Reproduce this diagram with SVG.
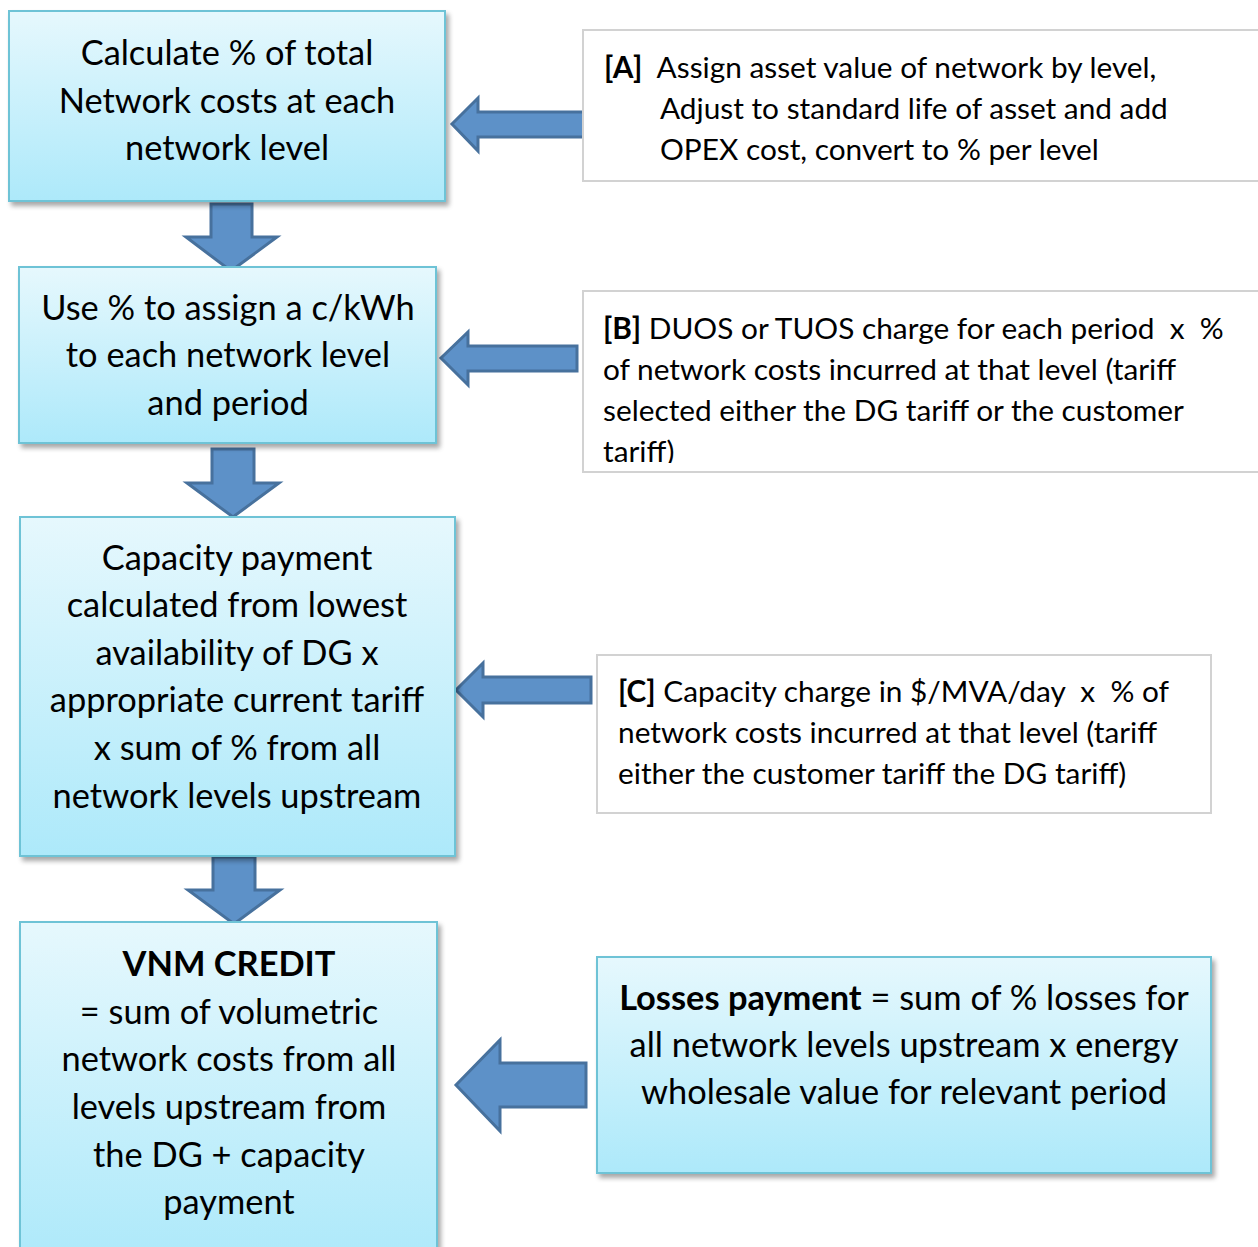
<svg xmlns="http://www.w3.org/2000/svg" width="1258" height="1247" viewBox="0 0 1258 1247">
  <defs>
    <linearGradient id="aqua" x1="0" y1="0" x2="0" y2="1">
      <stop offset="0" stop-color="#e6f8fd"/>
      <stop offset="1" stop-color="#ade9fa"/>
    </linearGradient>
    <filter id="shadow" x="-5%" y="-5%" width="112%" height="115%">
      <feGaussianBlur in="SourceAlpha" stdDeviation="2.5"/>
      <feOffset dx="3" dy="4" result="b"/>
      <feComponentTransfer><feFuncA type="linear" slope="0.35"/></feComponentTransfer>
      <feMerge><feMergeNode/><feMergeNode in="SourceGraphic"/></feMerge>
    </filter>
    <!-- text area of note B; the last line runs past it -->
    <clipPath id="clipB"><rect x="584" y="292" width="674" height="171"/></clipPath>
  </defs>
  <style>
    .step { fill: url(#aqua); stroke: #6ec3d6; stroke-width: 2; filter: url(#shadow); }
    .note { fill: #ffffff; stroke: #d2d2d2; stroke-width: 2; }
    .arrow { fill: #5d91c8; stroke: #47719d; stroke-width: 3; stroke-linejoin: miter; }
    text { font-family: Lato, "Open Sans", "Liberation Sans", sans-serif; fill: #000000; white-space: pre; }
    .big { font-size: 34.4px; text-anchor: middle; }
    .mid { font-size: 29.8px; }
    .b { font-weight: bold; }
  </style>

  <!-- flow connectors -->
  <g id="connectors">
    <!-- down arrows between steps -->
    <polygon class="arrow" points="211,204 252,204 252,237 277,237 231,271 186,237 211,237"/>
    <polygon class="arrow" points="212,449 254,449 254,483 279,483 233,517 187,483 212,483"/>
    <polygon class="arrow" points="213,857 255,857 255,890 280,890 234,924 188,890 213,890"/>
    <!-- left arrows from notes -->
    <polygon class="arrow" points="587,112 478,112 478,98 452,124 478,151 478,137 587,137"/>
    <polygon class="arrow" points="577,346 468,346 468,332 441,358 468,385 468,371 577,371"/>
    <polygon class="arrow" points="591,677 483,677 483,663 456,690 483,717 483,703 591,703"/>
    <polygon class="arrow" points="586,1063 500,1063 500,1040 456,1085 500,1131 500,1107 586,1107"/>
  </g>

  <g id="step1">
    <rect class="step" x="9" y="11" width="436" height="190"/>
    <text class="big" x="227" y="65">Calculate % of total</text>
    <text class="big" x="227" y="113">Network costs at each</text>
    <text class="big" x="227" y="160">network level</text>
  </g>

  <g id="step2">
    <rect class="step" x="19" y="267" width="417" height="176"/>
    <text class="big" x="228" y="320">Use % to assign a c/kWh</text>
    <text class="big" x="228" y="367">to each network level</text>
    <text class="big" x="228" y="415">and period</text>
  </g>

  <g id="step3">
    <rect class="step" x="20" y="517" width="435" height="339"/>
    <text class="big" x="237" y="570">Capacity payment</text>
    <text class="big" x="237" y="617">calculated from lowest</text>
    <text class="big" x="237" y="665">availability of DG x</text>
    <text class="big" x="237" y="712">appropriate current tariff</text>
    <text class="big" x="237" y="760">x sum of % from all</text>
    <text class="big" x="237" y="808">network levels upstream</text>
  </g>

  <g id="step4">
    <rect class="step" x="20" y="922" width="417" height="340"/>
    <text class="big b" x="229" y="976">VNM CREDIT</text>
    <text class="big" x="229" y="1024">= sum of volumetric</text>
    <text class="big" x="229" y="1071">network costs from all</text>
    <text class="big" x="229" y="1119">levels upstream from</text>
    <text class="big" x="229" y="1167">the DG + capacity</text>
    <text class="big" x="229" y="1214">payment</text>
  </g>

  <g id="noteA">
    <rect class="note" x="583" y="30" width="680" height="151"/>
    <text class="mid" x="604" y="78"><tspan class="b">[A]</tspan>  Assign asset value of network by level,</text>
    <text class="mid" x="660" y="119">Adjust to standard life of asset and add</text>
    <text class="mid" x="660" y="160">OPEX cost, convert to % per level</text>
  </g>

  <g id="noteB">
    <rect class="note" x="583" y="291" width="680" height="181"/>
    <g clip-path="url(#clipB)">
      <text class="mid" x="603" y="339"><tspan class="b">[B]</tspan> DUOS or TUOS charge for each period  x  %</text>
      <text class="mid" x="603" y="380">of network costs incurred at that level (tariff</text>
      <text class="mid" x="603" y="421">selected either the DG tariff or the customer</text>
      <text class="mid" x="603" y="462">tariff)</text>
    </g>
  </g>

  <g id="noteC">
    <rect class="note" x="597" y="655" width="614" height="158"/>
    <text class="mid" x="618" y="702"><tspan class="b">[C]</tspan> Capacity charge in $/MVA/day  x  % of</text>
    <text class="mid" x="618" y="743">network costs incurred at that level (tariff</text>
    <text class="mid" x="618" y="784">either the customer tariff the DG tariff)</text>
  </g>

  <g id="losses">
    <rect class="step" x="597" y="957" width="614" height="216"/>
    <text class="big" x="904" y="1010"><tspan class="b">Losses payment</tspan> = sum of % losses for</text>
    <text class="big" x="904" y="1057">all network levels upstream x energy</text>
    <text class="big" x="904" y="1104">wholesale value for relevant period</text>
  </g>
</svg>
